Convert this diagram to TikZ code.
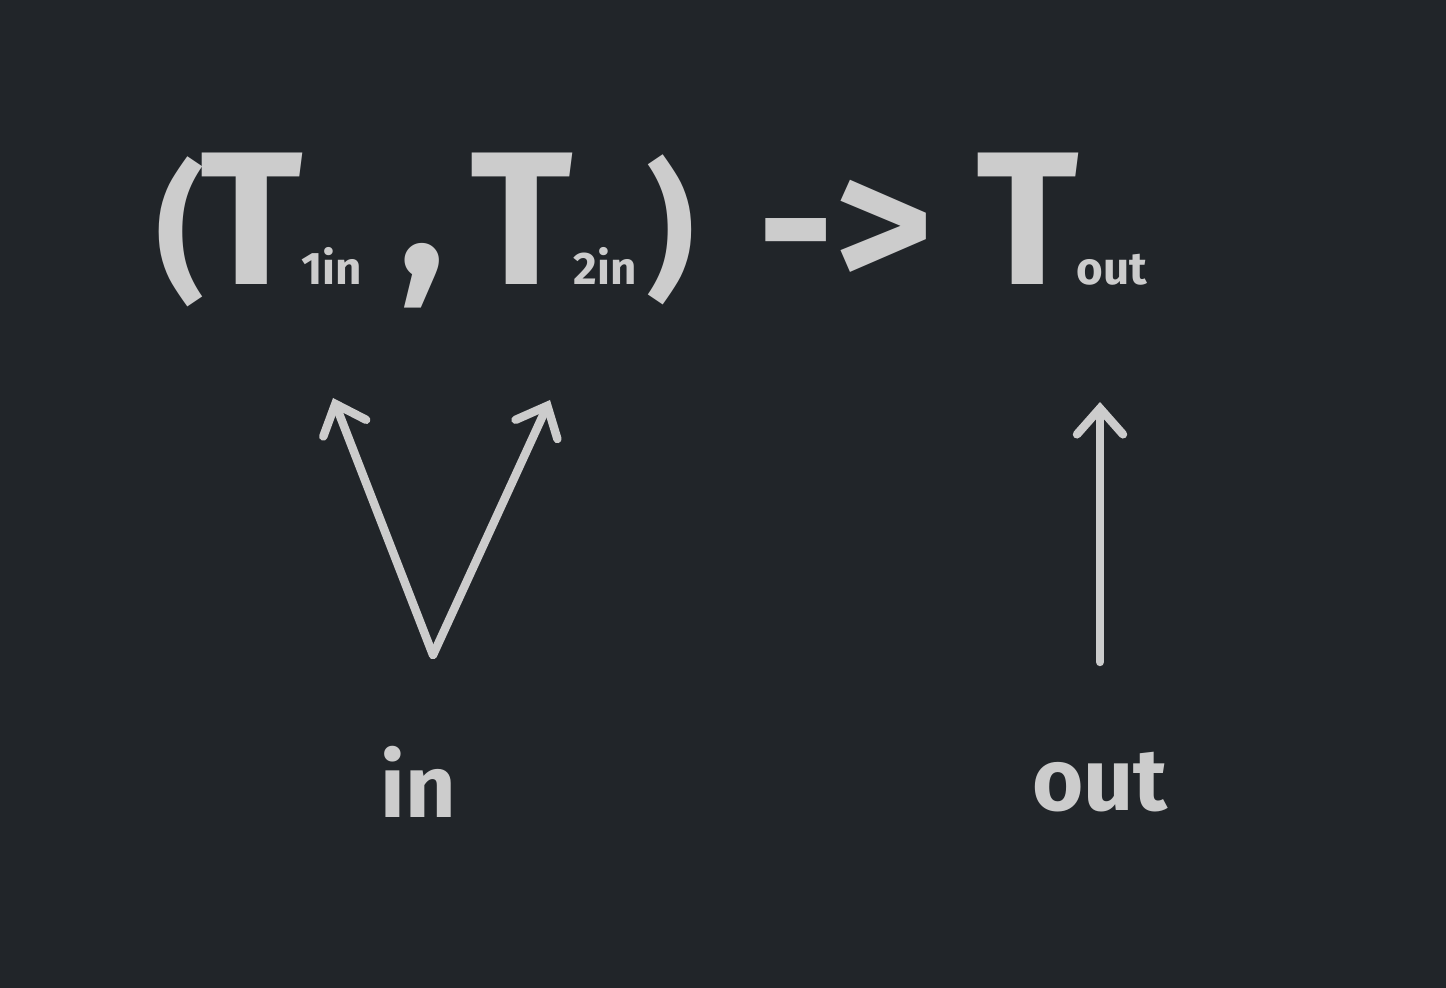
\documentclass[tikz,border=0pt]{standalone}
\usepackage{fontspec}
\setmainfont{Fira Sans}
\usetikzlibrary{arrows.meta}

\definecolor{board}{HTML}{212529}
\definecolor{chalk}{HTML}{CCCCCC}

\tikzset{
    big/.style={text=chalk, inner sep=0pt, font=\fontsize{54}{60}\selectfont\bfseries},
    paren/.style={text=chalk, inner sep=0pt, font=\fontsize{42}{46}\selectfont\bfseries},
    small/.style={text=chalk, inner sep=0pt, font=\fontsize{13}{16}\selectfont\bfseries},
    word/.style={text=chalk, inner sep=0pt, font=\fontsize{25}{30}\selectfont\bfseries},
    flow/.style={draw=chalk, line width=2.4pt, line cap=round, -{Straight Barb[length=2.6mm,width=4.6mm,line cap=round]}},
}

\begin{document}
\begin{tikzpicture}
    \fill[board] (0, 0) rectangle (14.46, -9.88);

    \node[paren] at (1.80, -2.32) (lpar) {(};
    \node[big, anchor=base] at (2.52, -2.85) (t1) {T};
    \node[small, anchor=base] at (3.32, -2.85) (s1) {1in};
    \node[big, anchor=base] at (4.22, -2.75) (comma) {,};
    \node[big, anchor=base] at (5.22, -2.85) (t2) {T};
    \node[small, anchor=base] at (6.05, -2.85) (s2) {2in};
    \node[paren] at (6.70, -2.30) (rpar) {)};
    \node[big] at (8.45, -2.35) (maps) {-{}>};
    \node[big, anchor=base] at (10.28, -2.85) (tout) {T};
    \node[small, anchor=base] at (11.12, -2.85) (sout) {out};

    \node[word] at (4.18, -7.82) (lin) {in};
    \node[word] at (11.00, -7.82) (lout) {out};

    \coordinate (fork) at (4.33, -6.55);
    \coordinate (tip1) at (3.33, -3.98);
    \coordinate (tip2) at (5.50, -4.00);
    \coordinate (base) at (11.00, -6.62);
    \coordinate (tip3) at (11.00, -4.02);

    \draw[flow] (fork) -- (tip1);
    \draw[flow] (fork) -- (tip2);
    \draw[flow] (base) -- (tip3);
\end{tikzpicture}
\end{document}
